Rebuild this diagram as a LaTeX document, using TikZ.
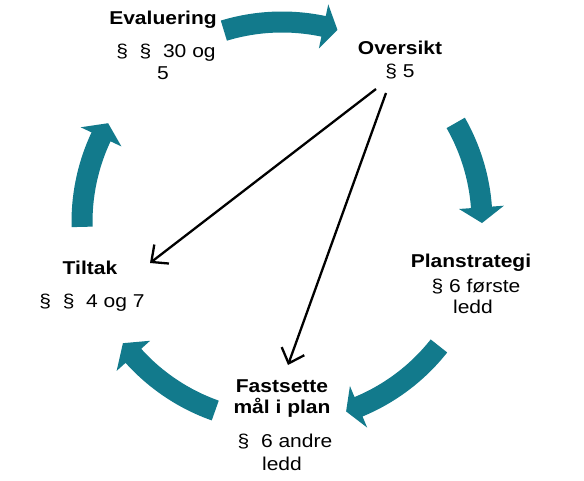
\documentclass[tikz,border=0pt]{standalone}
\usepackage{fontspec}
\setmainfont{Liberation Sans}[FakeStretch=1.13]
\usetikzlibrary{arrows.meta}
\definecolor{cyc}{RGB}{18,122,140}
\newcommand\cycarrow[3]{%
  \fill[cyc, shift={(282,258)}] (#1:210.5pt) arc[start angle=#1, end angle=#2, radius=210.5pt]
    -- (#2:222.5pt) -- (#3:200pt) -- (#2:177.5pt) -- (#2:189.5pt)
    arc[start angle=#2, end angle=#1, radius=189.5pt] -- cycle;}
\begin{document}
\begin{tikzpicture}[x=1pt,y=1pt,
  ttl/.style={font=\fontsize{18.6}{22}\selectfont\bfseries, inner sep=0pt, anchor=base},
  txt/.style={font=\fontsize{18.6}{22}\selectfont, inner sep=0pt, anchor=base},
  link/.style={draw=black, line width=2.3pt, -{Straight Barb[length=13pt,width=24pt]}}]
\fill[white] (0,0) rectangle (584,480);
\useasboundingbox (0,0) rectangle (584,480);
% cycle arrows
\cycarrow{106.9}{78}{73.9}
\cycarrow{29.7}{4.2}{-0.3}
\cycarrow{-38.3}{-67.5}{-71.3}
\cycarrow{-109.5}{-138}{-142.7}
\cycarrow{-178.6}{-205.2}{-209.6}
% texts
\node[ttl] (eval) at (163,455) {Evaluering};
\node[txt] (evalp1) at (166,422) {§\ \ §\ \ 30 og};
\node[txt] (evalp2) at (163,400) {5};
\node[ttl] (over) at (400,425) {Oversikt};
\node[txt] (overp) at (400,402) {§ 5};
\node[ttl] (plan) at (471,212) {Planstrategi};
\node[txt] (planp1) at (476,188) {§ 6 første};
\node[txt] (planp2) at (473,167) {ledd};
\node[ttl] (fast1) at (282,88) {Fastsette};
\node[ttl] (fast2) at (282,67) {mål i plan};
\node[txt] (fastp1) at (285,33) {§\ \ 6 andre};
\node[txt] (fastp2) at (282,10) {ledd};
\node[ttl] (tilt) at (90,205) {Tiltak};
\node[txt] (tiltp) at (92,172) {§\ \ §\ \ 4 og 7};
% links
\coordinate (o1) at (376,391);
\coordinate (o2) at (386,387);
\coordinate (t1) at (150,217);
\coordinate (f1) at (288,115);
\draw[link] (o1) -- (t1);
\draw[link] (o2) -- (f1);
\end{tikzpicture}
\end{document}
